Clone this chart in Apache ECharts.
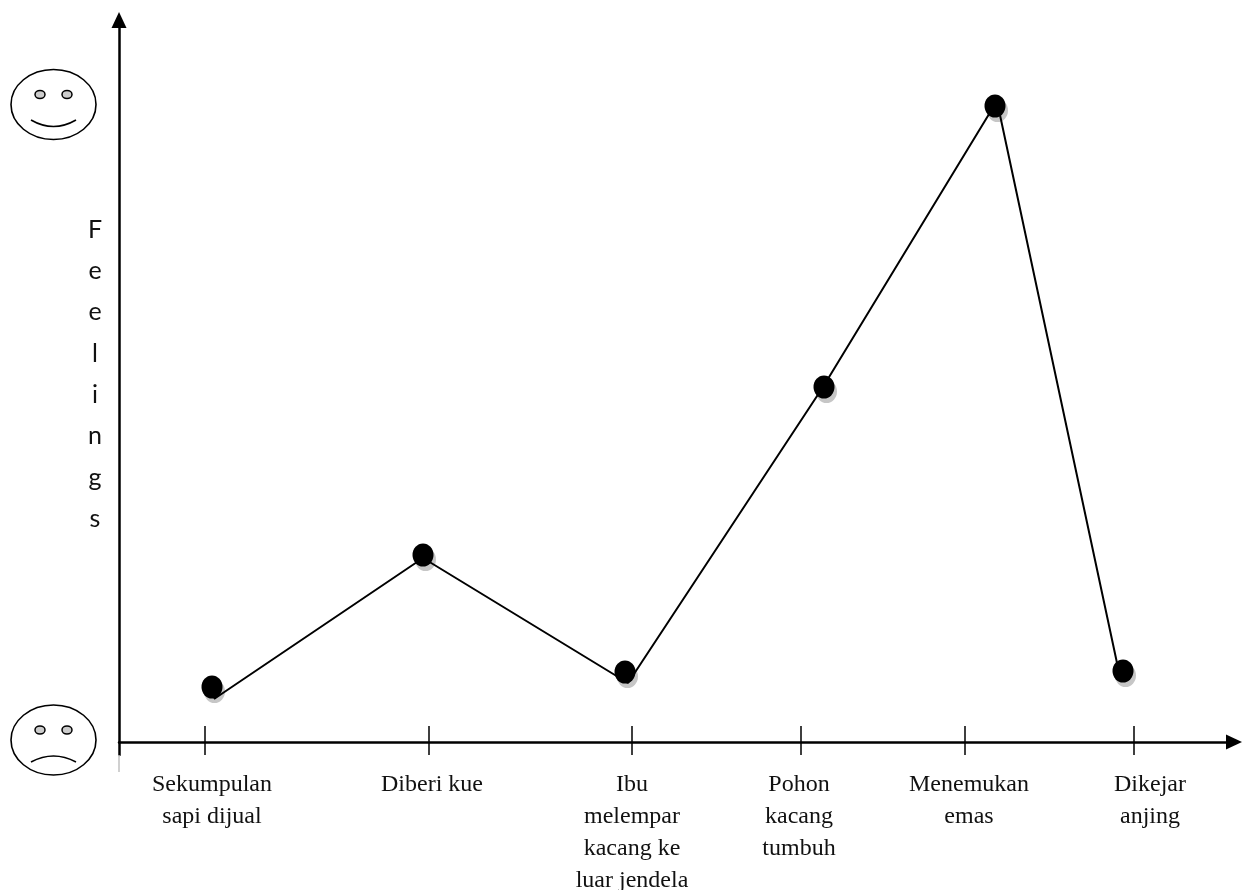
<!DOCTYPE html>
<html>
<head>
<meta charset="utf-8">
<style>html,body{margin:0;padding:0;background:#fff}#c{width:1247px;height:890px}</style>
<script src="https://cdn.jsdelivr.net/npm/echarts@6/dist/echarts.min.js"></script>
</head>
<body>
<div id="c"></div>
<script>
var labels = ['Sekumpulan\nsapi dijual','Diberi kue','Ibu\nmelempar\nkacang ke\nluar jendela','Pohon\nkacang\ntumbuh','Menemukan\nemas','Dikejar\nanjing'];
var tickX = [86,310,513,682,846,1015];
var labelX = [93,313,513,680,850,1031];
var dotX = [93,304,506,705,876,1004];
var dotY = [55,187,70,355,636,71];
var lineX = [95,304,509,704,878,1001];
var lineY = [43,184,59,355,641,65];
var stubX = [0,0];
var stubY = [-13,-30];
var yTitle = 'F\ne\ne\nl\ni\nn\ng\ns';

var dots = dotX.map(function(x,i){return [x,dotY[i]];});
var linePts = lineX.map(function(x,i){return [x,lineY[i]];});
var stub = stubX.map(function(x,i){return [x,stubY[i]];});

function labelFor(v){ var i = labelX.indexOf(v); return i<0 ? '' : labels[i]; }
var ellipse = function(cx,cy,rx,ry,fill,w){
  return {type:'ellipse',shape:{cx:cx,cy:cy,rx:rx,ry:ry},style:{fill:fill,stroke:'#000',lineWidth:w}};
};
var mouth = function(y1,cy){
  return {type:'bezierCurve',shape:{x1:31,y1:y1,x2:76,y2:y1,cpx1:53.5,cpy1:cy},style:{fill:null,stroke:'#000',lineWidth:1.6}};
};

var chart = echarts.init(document.getElementById('c'),null,{renderer:'canvas'});
chart.setOption({
  animation:false,
  backgroundColor:'#fff',
  title:{text:yTitle,left:95,top:209,padding:0,textAlign:'center',
    textStyle:{fontFamily:'Lato',fontSize:25,fontWeight:'normal',lineHeight:41.3,color:'#111'}},
  grid:{left:119,top:20,width:1115,height:735,containLabel:false,outerBoundsMode:'none'},
  xAxis:[{
    type:'value',position:'bottom',min:0,max:1115,splitLine:{show:false},
    axisLine:{onZero:true,symbol:['none','triangle'],symbolSize:[15,16],lineStyle:{color:'#000',width:2.5}},
    axisTick:{show:true,customValues:tickX,length:13,lineStyle:{color:'#000',width:1.5}},
    axisLabel:{show:true,customValues:labelX,formatter:labelFor,margin:14,color:'#111',
      fontFamily:'"Liberation Serif",serif',fontSize:24,lineHeight:32,align:'center',verticalAlign:'top'}
  },{
    type:'value',position:'bottom',offset:-13,min:0,max:1115,splitLine:{show:false},
    axisLine:{show:false,onZero:false},
    axisTick:{show:true,inside:true,customValues:tickX,length:16,lineStyle:{color:'#000',width:1.5}},
    axisLabel:{show:false}
  }],
  yAxis:{
    type:'value',min:-13,max:722,splitLine:{show:false},
    axisLine:{onZero:false,symbol:['none','triangle'],symbolSize:[15,16],lineStyle:{color:'#000',width:2.5}},
    axisTick:{show:false},axisLabel:{show:false}
  },
  series:[
    {name:'stub',type:'line',data:stub,clip:false,symbol:'none',silent:true,z:1,lineStyle:{color:'#c0c0c0',width:1.5}},
    {name:'shadow',type:'scatter',data:dots,symbol:'circle',symbolSize:[21,23],symbolOffset:[2.5,4.5],z:2,itemStyle:{color:'#c6c6c6',opacity:1}},
    {name:'feelings',type:'line',data:linePts,symbol:'none',z:3,lineStyle:{color:'#000',width:2}},
    {name:'dots',type:'scatter',data:dots,symbol:'circle',symbolSize:[21,23],z:4,itemStyle:{color:'#000',opacity:1}}
  ],
  graphic:[
    ellipse(53.5,104.5,42.5,35,'#fff',1.6),
    ellipse(40,94.5,5,4,'#ccc',1.5),
    ellipse(67,94.5,5,4,'#ccc',1.5),
    mouth(120,133),
    ellipse(53.5,740,42.5,35,'#fff',1.6),
    ellipse(40,730,5,4,'#ccc',1.5),
    ellipse(67,730,5,4,'#ccc',1.5),
    mouth(762,750)
  ]
});
</script>
</body>
</html>
